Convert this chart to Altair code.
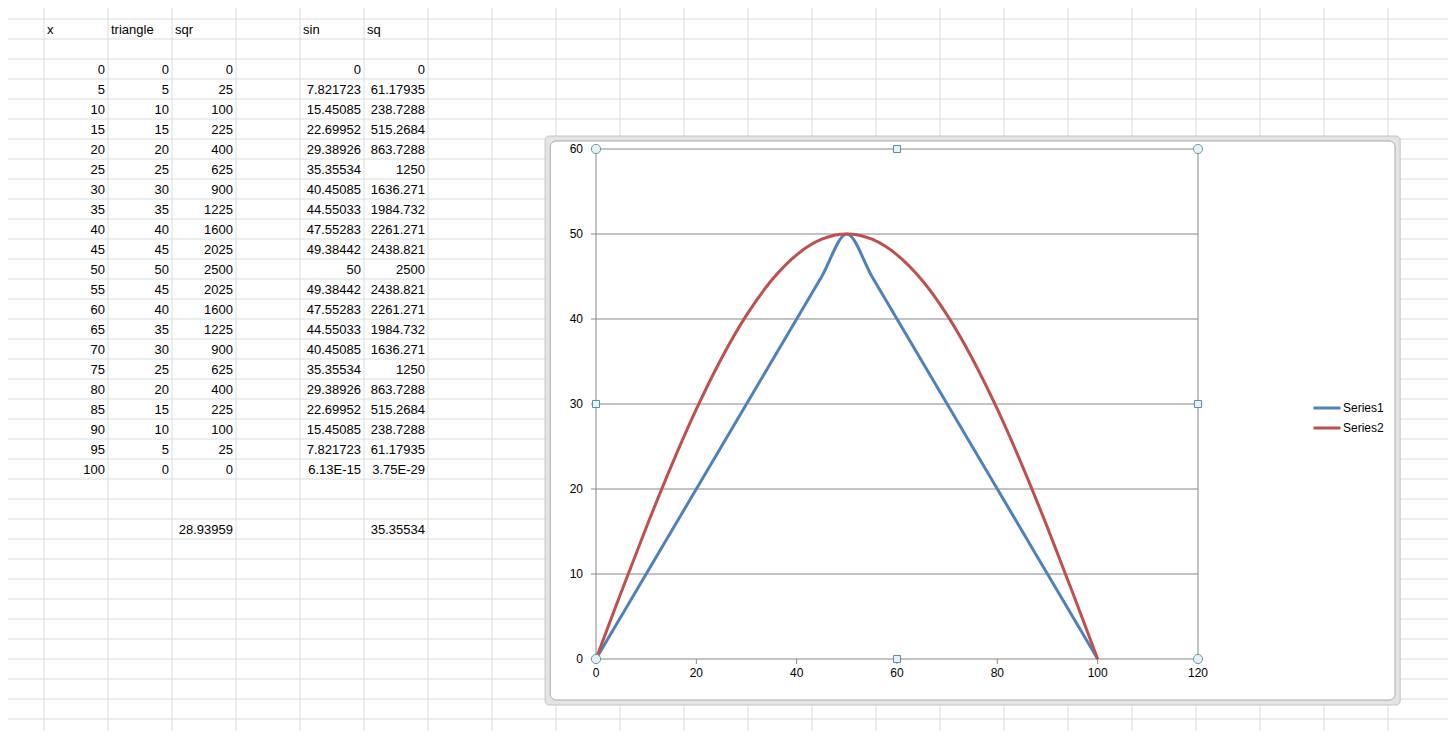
import altair as alt
import pandas as pd

# ---------------- spreadsheet content ----------------
headers = ["x", "triangle", "sqr", "", "sin", "sq"]
x_vals = ["0", "5", "10", "15", "20", "25", "30", "35", "40", "45", "50",
          "55", "60", "65", "70", "75", "80", "85", "90", "95", "100"]
triangle = ["0", "5", "10", "15", "20", "25", "30", "35", "40", "45", "50",
            "45", "40", "35", "30", "25", "20", "15", "10", "5", "0"]
sqr = ["0", "25", "100", "225", "400", "625", "900", "1225", "1600", "2025", "2500",
       "2025", "1600", "1225", "900", "625", "400", "225", "100", "25", "0"]
sin_vals = ["0", "7.821723", "15.45085", "22.69952", "29.38926", "35.35534", "40.45085",
            "44.55033", "47.55283", "49.38442", "50", "49.38442", "47.55283", "44.55033",
            "40.45085", "35.35534", "29.38926", "22.69952", "15.45085", "7.821723", "6.13E-15"]
sq_vals = ["0", "61.17935", "238.7288", "515.2684", "863.7288", "1250", "1636.271",
           "1984.732", "2261.271", "2438.821", "2500", "2438.821", "2261.271", "1984.732",
           "1636.271", "1250", "863.7288", "515.2684", "238.7288", "61.17935", "3.75E-29"]
summary = ["", "", "28.93959", "", "", "35.35534"]

# chart axis ticks
y_ticks = [0, 10, 20, 30, 40, 50, 60]
x_ticks = [0, 20, 40, 60, 80, 100, 120]
series_names = ["Series1", "Series2"]
series_colors = ["#4F81BD", "#C0504D"]

W, H = 1440, 723
FONT = "Liberation Sans"

# ---------------- scales ----------------
sx = alt.Scale(domain=[0, 21], range=[36, 1380], nice=False, zero=False)
sy = alt.Scale(domain=[0, 35], range=[11, 711], nice=False, zero=False)
cx = alt.Scale(domain=[0, 120], range=[588, 1190], nice=False, zero=False)
cy = alt.Scale(domain=[0, 60], range=[651, 141], nice=False, zero=False)

# ---------------- sheet grid ----------------
row_lines = pd.DataFrame({"r": list(range(0, 37))})
col_lines = pd.DataFrame({"c": list(range(0, 22))})
grid_rows = alt.Chart(row_lines).mark_rule(color="#dadcdd", strokeWidth=1).encode(
    y=alt.Y("r:Q", scale=sy, axis=None))
grid_cols = alt.Chart(col_lines).mark_rule(color="#dadcdd", strokeWidth=1).encode(
    x=alt.X("c:Q", scale=sx, axis=None))

# ---------------- sheet texts ----------------
left_cells = []
for i, h in enumerate(headers):
    if h:
        left_cells.append({"c": i, "r": 0.5, "t": h})
right_cells = []
columns = [x_vals, triangle, sqr, None, sin_vals, sq_vals]
for i, col in enumerate(columns):
    if col is None:
        continue
    for j, v in enumerate(col):
        right_cells.append({"c": i + 1, "r": 2.5 + j, "t": v})
for i, v in enumerate(summary):
    if v:
        right_cells.append({"c": i + 1, "r": 25.5, "t": v})

text_left = alt.Chart(pd.DataFrame(left_cells)).mark_text(
    align="left", baseline="middle", dx=3, dy=1, font=FONT, fontSize=13, color="#000000"
).encode(x=alt.X("c:Q", scale=sx, axis=None), y=alt.Y("r:Q", scale=sy, axis=None), text="t:N")
text_right = alt.Chart(pd.DataFrame(right_cells)).mark_text(
    align="right", baseline="middle", dx=-3, dy=1, font=FONT, fontSize=13, color="#000000"
).encode(x=alt.X("c:Q", scale=sx, axis=None), y=alt.Y("r:Q", scale=sy, axis=None), text="t:N")

# ---------------- chart object frame (anchored in sheet cells) ----------------
frame_outer = pd.DataFrame({"c0": [7.83], "c1": [21.19], "r0": [5.85], "r1": [34.3]})
frame_inner = pd.DataFrame({"c0": [7.91], "c1": [21.11], "r0": [6.1], "r1": [34.05]})
outer = alt.Chart(frame_outer).mark_rect(
    fill="#e4e4e4", stroke="#c4c4c4", strokeWidth=1, cornerRadius=4
).encode(x=alt.X("c0:Q", scale=sx, axis=None), x2="c1:Q",
         y=alt.Y("r0:Q", scale=sy, axis=None), y2="r1:Q")
inner = alt.Chart(frame_inner).mark_rect(
    fill="#ffffff", stroke="#a8a8a8", strokeWidth=1, cornerRadius=6
).encode(x=alt.X("c0:Q", scale=sx, axis=None), x2="c1:Q",
         y=alt.Y("r0:Q", scale=sy, axis=None), y2="r1:Q")

# ---------------- plot area ----------------
GRAY = "#878787"
ygrid_df = pd.DataFrame({"v": y_ticks, "a": [0] * len(y_ticks), "b": [120] * len(y_ticks)})
ygrid = alt.Chart(ygrid_df).mark_rule(color=GRAY, strokeWidth=1).encode(
    y=alt.Y("v:Q", scale=cy, axis=None),
    x=alt.X("a:Q", scale=cx, axis=None), x2="b:Q")
vb_df = pd.DataFrame({"v": [0, 120], "a": [0, 0], "b": [60, 60]})
vborders = alt.Chart(vb_df).mark_rule(color=GRAY, strokeWidth=1).encode(
    x=alt.X("v:Q", scale=cx, axis=None),
    y=alt.Y("a:Q", scale=cy, axis=None), y2="b:Q")
yt_df = pd.DataFrame({"v": y_ticks, "a": [0] * len(y_ticks)})
yticks_m = alt.Chart(yt_df).mark_tick(
    orient="horizontal", color=GRAY, thickness=1, size=5, xOffset=-2.5, opacity=1).encode(
    y=alt.Y("v:Q", scale=cy, axis=None), x=alt.X("a:Q", scale=cx, axis=None))
xt_df = pd.DataFrame({"v": x_ticks, "a": [0] * len(x_ticks)})
xticks_m = alt.Chart(xt_df).mark_tick(
    orient="vertical", color=GRAY, thickness=1, size=5, yOffset=2.5, opacity=1).encode(
    x=alt.X("v:Q", scale=cx, axis=None), y=alt.Y("a:Q", scale=cy, axis=None))
ylabels = alt.Chart(yt_df).mark_text(
    align="right", baseline="middle", dx=-13, font=FONT, fontSize=12, color="#000000").encode(
    y=alt.Y("v:Q", scale=cy, axis=None), x=alt.X("a:Q", scale=cx, axis=None), text="v:Q")
xlabels = alt.Chart(xt_df).mark_text(
    align="center", baseline="middle", dy=14, font=FONT, fontSize=12, color="#000000").encode(
    x=alt.X("v:Q", scale=cx, axis=None), y=alt.Y("a:Q", scale=cy, axis=None), text="v:Q")

# ---------------- series ----------------
xs_num = [float(v) for v in x_vals]
rows = []
for xv, t in zip(xs_num, triangle):
    rows.append({"x": xv, "y": float(t), "series": "Series1"})
for xv, s in zip(xs_num, sin_vals):
    rows.append({"x": xv, "y": float(s), "series": "Series2"})
series_df = pd.DataFrame(rows)

lines = alt.Chart(series_df).mark_line(strokeWidth=3, interpolate="cardinal").encode(
    x=alt.X("x:Q", scale=cx, axis=None),
    y=alt.Y("y:Q", scale=cy, axis=None),
    color=alt.Color("series:N",
                    scale=alt.Scale(domain=series_names, range=series_colors),
                    legend=alt.Legend(orient="none", legendX=1304, legendY=390, title=None,
                                      symbolType="stroke", symbolStrokeWidth=3,
                                      symbolSize=729, clipHeight=20, rowPadding=0,
                                      labelOffset=1, padding=0, labelFont=FONT,
                                      labelFontSize=12, labelColor="#000000")),
)

# ---------------- plot-area selection handles ----------------
circ = pd.DataFrame({"x": [0, 120, 0, 120], "y": [0, 0, 60, 60]})
sqs = pd.DataFrame({"x": [60, 60, 0, 120], "y": [0, 60, 30, 30]})
handles_c = alt.Chart(circ).mark_point(
    shape="circle", size=85, filled=True, fill="#e2f2f6", stroke="#6d97aa",
    strokeWidth=1, opacity=1).encode(
    x=alt.X("x:Q", scale=cx, axis=None), y=alt.Y("y:Q", scale=cy, axis=None))
handles_s = alt.Chart(sqs).mark_point(
    shape="square", size=50, filled=True, fill="#e2f2f6", stroke="#5d8aa0",
    strokeWidth=1, opacity=1).encode(
    x=alt.X("x:Q", scale=cx, axis=None), y=alt.Y("y:Q", scale=cy, axis=None))

chart = alt.layer(
    grid_rows, grid_cols, text_left, text_right, outer, inner,
    ygrid, vborders, yticks_m, xticks_m, ylabels, xlabels,
    lines, handles_c, handles_s,
).resolve_scale(x="independent", y="independent", color="independent").properties(
    width=W, height=H, padding=0, autosize="none"
).configure_view(stroke=None)

chart.save("out.html", embed_options={"renderer": "svg", "actions": False})
